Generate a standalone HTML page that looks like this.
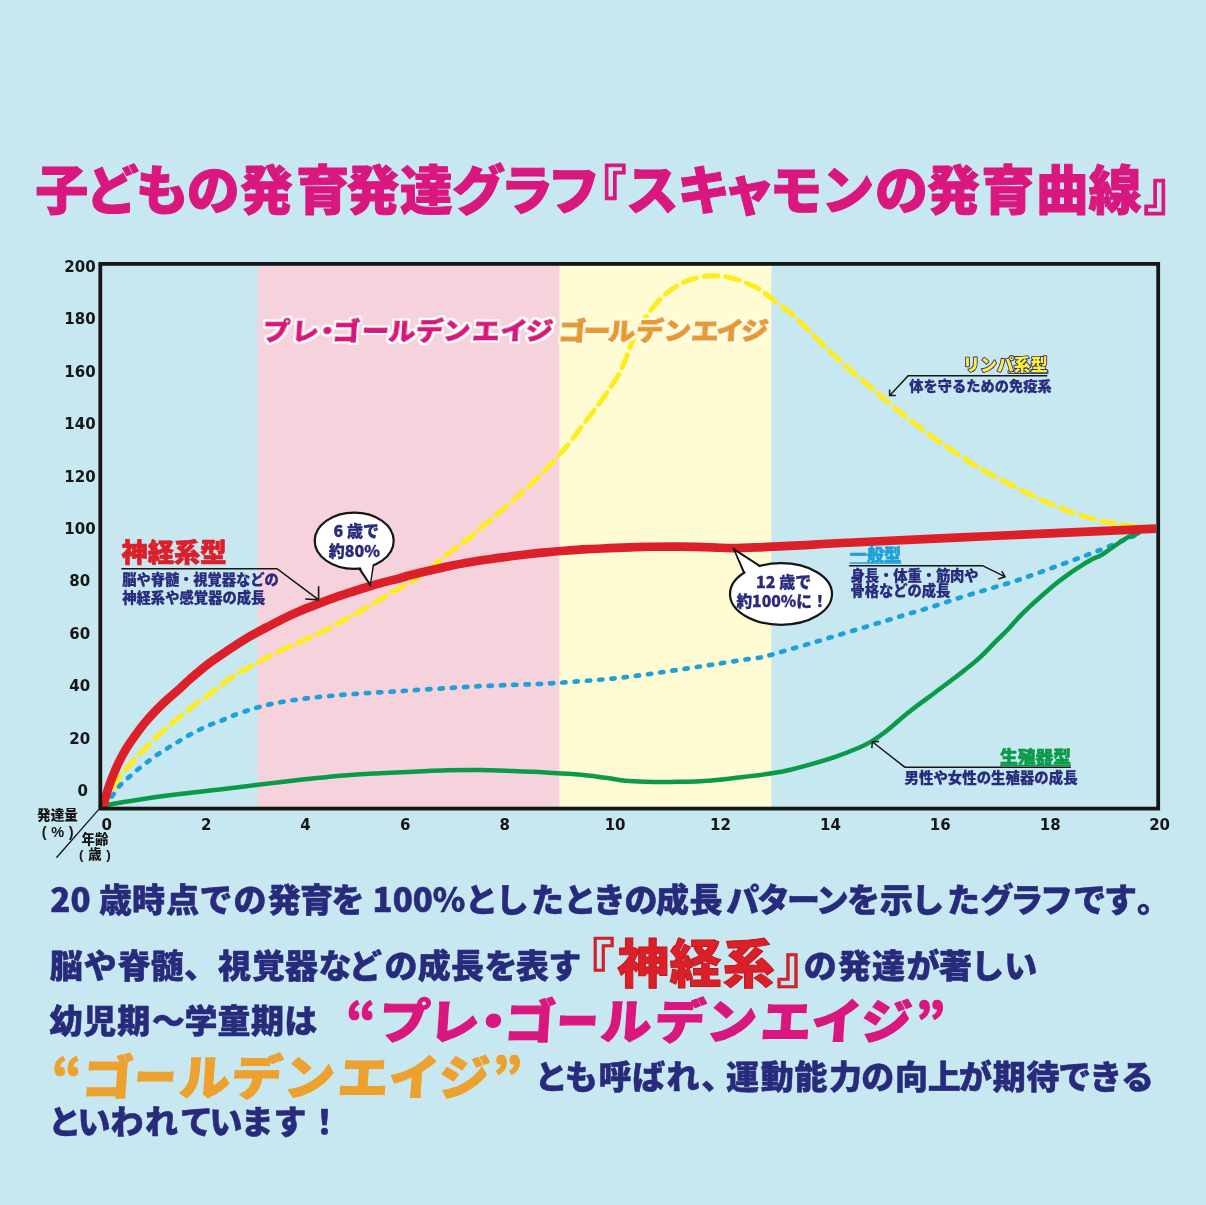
<!DOCTYPE html>
<html lang="ja"><head><meta charset="utf-8"><title>スキャモンの発育曲線</title>
<style>
html,body{margin:0;padding:0;background:#c7e8f1;}
body{width:1206px;height:1205px;overflow:hidden;position:relative;}
svg{display:block;position:absolute;left:0;top:0;}
text{font-family:"Liberation Sans","Noto Sans CJK JP",sans-serif;}
text.jp{font-family:"Noto Sans CJK JP",sans-serif;}
.num{font-family:"DejaVu Sans","Liberation Sans",sans-serif;font-weight:bold;}
</style></head><body>
<svg width="1206" height="1205" viewBox="0 0 1206 1205">
<rect x="0" y="0" width="1206" height="1205" fill="#c7e8f1"/>
<rect x="257.7" y="264" width="301.7" height="544.6" fill="#f6d2dc"/>
<rect x="559.4" y="264" width="212" height="544.6" fill="#fffbd3"/>
<text x="61.8 112.3 162.3 213.3 266.4 322.7 372.9 426.2 478.4 526.7 573.8 599.9 652.2 703.8 749.3 796.0 847.8 901.5 953.5 1008.1 1062.3 1115.1 1169.9" y="209.6" font-size="53.0" fill="#d9177f" font-weight="900" text-anchor="middle" stroke="#d9177f" stroke-width="1" stroke-linejoin="round">子どもの発育発達グラフ『スキャモンの発育曲線』</text>
<g fill="none" stroke-linejoin="round">
<path d="M103.0 807.0 C103.6 806.0 105.1 803.5 106.5 801.0 C107.9 798.5 109.6 795.6 111.5 792.0 C113.4 788.4 116.2 782.6 117.9 779.6 C119.6 776.6 120.1 776.0 121.9 773.7 C123.7 771.4 126.2 768.7 128.9 765.7 C131.6 762.7 135.2 758.5 137.8 755.7 C140.5 752.9 142.3 751.3 144.8 748.8 C147.3 746.3 150.3 743.3 152.8 740.8 C155.3 738.3 157.2 736.1 159.7 733.8 C162.2 731.5 165.2 729.0 167.7 726.9 C170.2 724.8 171.9 723.2 174.7 720.9 C177.5 718.6 181.3 715.6 184.6 712.9 C187.9 710.2 191.3 707.4 194.6 704.9 C197.9 702.4 200.9 700.6 204.6 698.0 C208.3 695.4 211.8 692.6 216.6 689.0 C221.4 685.4 227.7 679.8 233.2 676.1 C238.7 672.4 244.3 670.0 249.8 667.0 C255.3 664.0 260.8 660.7 266.3 657.8 C271.8 654.9 277.4 652.2 282.9 649.6 C288.4 647.0 294.0 644.6 299.5 642.1 C305.0 639.6 310.6 637.2 316.1 634.6 C321.6 632.0 327.2 629.2 332.7 626.3 C338.2 623.4 343.8 620.2 349.3 617.2 C354.8 614.2 360.3 611.3 365.8 608.1 C371.3 604.9 377.5 601.0 382.4 598.1 C387.3 595.2 390.4 593.1 395.0 590.5 C399.6 587.9 404.1 586.0 409.9 582.3 C415.7 578.6 423.2 573.4 429.8 568.4 C436.4 563.4 443.1 557.5 449.7 552.4 C456.3 547.2 463.0 542.8 469.6 537.5 C476.2 532.2 482.9 526.2 489.5 520.6 C496.1 515.0 502.8 509.5 509.4 503.7 C516.0 497.9 522.7 492.1 529.3 485.8 C535.9 479.5 542.7 472.9 549.2 465.9 C555.7 458.9 563.0 450.6 568.5 444.0 C574.0 437.4 577.4 432.1 581.9 426.2 C586.4 420.2 591.1 414.6 595.8 408.3 C600.4 402.0 605.8 394.4 609.8 388.4 C613.8 382.4 616.9 377.8 619.7 372.5 C622.5 367.2 624.6 361.8 626.7 356.5 C628.9 351.2 630.5 345.6 632.6 340.6 C634.8 335.6 636.8 331.5 639.6 326.7 C642.4 321.9 646.0 316.6 649.6 311.8 C653.2 307.0 657.2 302.0 661.5 297.8 C665.8 293.6 670.8 289.9 675.4 286.9 C680.0 283.9 684.8 281.6 689.4 279.9 C694.0 278.2 698.7 277.2 703.3 276.5 C707.9 275.8 712.6 275.7 717.2 275.9 C721.8 276.1 726.5 276.8 731.1 277.9 C735.8 279.0 740.5 280.7 745.1 282.5 C749.8 284.3 754.4 286.1 759.0 288.9 C763.6 291.7 768.2 295.8 772.9 299.4 C777.5 302.9 782.4 306.5 786.9 310.2 C791.4 313.9 795.9 317.7 800.0 321.6 C804.1 325.5 806.5 328.2 811.8 333.5 C817.1 338.8 825.1 347.0 831.7 353.3 C838.3 359.6 845.4 365.8 851.6 371.2 C857.8 376.6 863.2 380.9 869.0 385.9 C874.8 390.8 879.8 395.3 886.5 400.9 C893.2 406.5 903.5 414.9 909.3 419.5 C915.0 424.1 917.0 425.3 921.0 428.3 C925.0 431.3 929.4 434.8 933.3 437.6 C937.2 440.4 940.7 442.6 944.6 445.2 C948.5 447.8 952.3 450.7 956.5 453.5 C960.7 456.3 965.6 459.5 969.8 462.1 C974.0 464.8 977.7 467.1 981.7 469.4 C985.7 471.7 989.5 473.9 993.7 476.1 C997.9 478.3 1003.1 480.8 1006.9 482.7 C1010.7 484.6 1011.5 485.1 1016.3 487.5 C1021.0 489.9 1029.1 494.0 1035.4 497.0 C1041.8 500.0 1048.1 503.0 1054.4 505.6 C1060.8 508.2 1067.1 510.7 1073.5 512.9 C1079.9 515.1 1086.2 517.0 1092.6 518.7 C1099.0 520.4 1106.0 521.8 1111.7 522.9 C1117.4 524.0 1121.4 524.7 1126.9 525.4 C1132.5 526.1 1142.0 526.7 1145.0 527.0" stroke="#ffec1c" stroke-width="4.9" stroke-dasharray="14 7.6" stroke-linecap="round"/>
<path d="M104.0 806.0 C105.2 804.5 108.8 800.4 111.4 797.1 C114.0 793.8 116.7 789.3 119.4 786.1 C122.2 782.9 125.1 780.7 127.9 778.1 C130.7 775.5 133.3 773.2 136.3 770.7 C139.3 768.2 142.6 765.7 145.8 763.2 C149.1 760.7 152.5 758.0 155.8 755.7 C159.1 753.4 162.4 751.4 165.7 749.3 C169.0 747.2 172.3 745.4 175.7 743.3 C179.1 741.2 182.4 738.9 186.1 736.8 C189.8 734.7 193.9 732.7 197.6 730.8 C201.3 728.9 204.7 727.0 208.5 725.4 C212.3 723.8 216.4 722.6 220.5 721.0 C224.6 719.4 228.3 717.4 233.2 715.5 C238.1 713.6 244.3 711.5 249.8 709.8 C255.3 708.1 260.8 706.4 266.3 705.1 C271.8 703.8 277.4 702.8 282.9 701.8 C288.4 700.8 294.0 700.0 299.5 699.3 C305.0 698.5 310.6 697.9 316.1 697.3 C321.6 696.7 327.2 696.2 332.7 695.7 C338.2 695.2 343.8 694.7 349.3 694.3 C354.8 693.9 360.3 693.6 365.8 693.2 C371.3 692.9 376.9 692.5 382.4 692.2 C387.9 691.9 393.9 691.6 399.0 691.3 C404.1 691.0 405.3 690.7 413.2 690.2 C421.1 689.7 435.2 688.9 446.3 688.2 C457.4 687.5 468.4 686.8 479.5 686.2 C490.6 685.7 501.7 685.3 512.7 684.9 C523.8 684.5 534.8 684.2 545.8 683.6 C556.8 683.0 567.9 682.1 579.0 681.3 C590.1 680.5 601.2 679.7 612.2 678.6 C623.2 677.5 634.2 676.1 645.3 674.6 C656.3 673.1 667.4 671.4 678.5 669.7 C689.6 668.1 700.7 666.4 711.7 664.7 C722.8 663.0 736.4 660.8 744.8 659.6 C753.2 658.4 757.8 658.0 762.0 657.3 C766.2 656.6 766.2 656.3 770.0 655.2 C773.8 654.1 778.3 652.7 784.9 650.8 C791.5 648.9 801.5 646.0 809.8 643.6 C818.1 641.2 826.3 638.7 834.6 636.2 C842.9 633.7 851.2 631.2 859.5 628.7 C867.8 626.2 876.1 623.7 884.4 621.2 C892.7 618.7 901.0 616.1 909.3 613.6 C917.6 611.1 925.8 608.8 934.1 606.2 C942.4 603.6 950.7 600.5 959.0 597.9 C967.3 595.3 975.6 592.9 983.9 590.4 C992.2 587.9 1000.7 585.6 1008.8 583.0 C1016.9 580.4 1021.9 578.8 1032.5 575.0 C1043.1 571.2 1061.2 564.6 1072.3 560.5 C1083.3 556.4 1090.0 554.0 1098.8 550.5 C1107.6 547.0 1118.1 542.5 1125.3 539.5 C1132.5 536.5 1139.2 533.7 1142.0 532.5" stroke="#1ea0d8" stroke-width="4.7" stroke-dasharray="3.2 9.1" stroke-linecap="round"/>
<path d="M103.0 806.5 C103.7 806.2 100.4 806.3 107.4 805.0 C114.4 803.7 132.4 800.7 144.8 798.8 C157.2 796.9 169.7 795.3 182.1 793.8 C194.5 792.2 209.1 790.7 219.5 789.5 C229.9 788.3 232.0 788.0 244.4 786.5 C256.9 785.0 277.6 782.3 294.2 780.5 C310.8 778.7 329.6 776.7 343.9 775.5 C358.2 774.3 368.4 773.9 380.0 773.3 C391.6 772.7 402.1 772.3 413.2 771.8 C424.2 771.3 435.2 770.6 446.3 770.3 C457.4 770.0 468.4 770.0 479.5 770.1 C490.6 770.2 501.7 770.7 512.7 771.1 C523.8 771.5 534.8 771.9 545.8 772.5 C556.8 773.1 569.0 773.6 579.0 774.5 C589.0 775.4 597.8 776.8 605.5 777.8 C613.2 778.8 618.8 780.1 625.4 780.8 C632.0 781.5 636.4 781.6 645.3 781.8 C654.1 782.0 667.4 782.0 678.5 781.8 C689.6 781.6 700.7 781.2 711.7 780.4 C722.8 779.6 735.9 777.8 744.8 776.8 C753.7 775.8 758.3 775.3 765.0 774.3 C771.7 773.3 777.4 772.6 784.9 771.0 C792.4 769.4 801.5 766.9 809.8 764.6 C818.1 762.3 826.3 760.0 834.6 757.1 C842.9 754.2 853.3 750.1 859.5 747.5 C865.7 744.9 867.8 743.7 871.9 741.2 C876.0 738.7 878.2 737.5 884.4 732.6 C890.6 727.7 901.0 718.4 909.3 711.8 C917.6 705.2 925.8 699.4 934.1 693.2 C942.4 687.0 951.5 680.3 959.0 674.5 C966.5 668.7 972.7 664.0 978.9 658.4 C985.1 652.8 991.3 645.9 996.3 640.9 C1001.3 635.9 1005.3 632.1 1008.8 628.5 C1012.3 624.9 1013.8 622.7 1017.3 619.0 C1020.8 615.3 1025.6 610.5 1029.9 606.4 C1034.2 602.3 1038.8 598.4 1043.2 594.5 C1047.6 590.6 1052.0 586.7 1056.4 583.2 C1060.8 579.7 1065.3 576.4 1069.7 573.3 C1074.1 570.2 1079.0 567.0 1083.0 564.6 C1087.0 562.2 1090.4 560.2 1093.5 558.6 C1096.6 557.0 1097.9 557.2 1101.4 555.1 C1104.9 553.0 1110.3 548.8 1114.7 545.8 C1119.1 542.8 1123.8 539.5 1128.0 537.3 C1132.2 535.1 1138.0 533.3 1140.0 532.5" stroke="#0a9a48" stroke-width="4.5" stroke-linecap="butt"/>
<path d="M102.8 808.0 C103.1 806.8 103.8 804.1 104.6 801.0 C105.4 797.9 106.8 793.2 107.9 789.6 C109.0 786.0 110.2 782.9 111.4 779.6 C112.7 776.3 114.0 773.0 115.4 769.7 C116.9 766.4 118.4 763.0 120.1 759.7 C121.8 756.4 123.6 753.1 125.6 749.8 C127.6 746.5 129.8 743.1 132.1 739.8 C134.4 736.5 136.8 733.1 139.3 729.8 C141.8 726.5 144.4 723.2 147.3 719.9 C150.2 716.6 153.3 713.2 156.5 709.9 C159.7 706.6 163.1 703.3 166.7 700.0 C170.3 696.7 174.3 693.5 178.2 690.0 C182.1 686.5 184.6 683.7 189.9 679.2 C195.2 674.7 203.2 667.8 209.8 662.8 C216.4 657.8 223.1 653.6 229.7 649.2 C236.3 644.8 243.4 640.3 249.6 636.6 C255.8 632.9 261.4 630.2 267.0 627.2 C272.6 624.2 277.5 621.5 282.9 618.8 C288.3 616.1 294.0 613.6 299.5 611.2 C305.0 608.8 310.6 606.8 316.1 604.6 C321.6 602.5 327.2 600.3 332.7 598.3 C338.2 596.3 343.8 594.5 349.3 592.7 C354.8 590.9 360.3 589.2 365.8 587.5 C371.3 585.8 376.9 584.1 382.4 582.6 C387.9 581.1 394.4 579.7 399.0 578.5 C403.6 577.3 404.8 576.6 409.9 575.3 C415.0 573.9 423.2 571.9 429.8 570.4 C436.4 568.9 443.1 567.4 449.7 566.0 C456.3 564.6 463.0 563.4 469.6 562.3 C476.2 561.2 482.9 560.2 489.5 559.2 C496.1 558.2 502.8 557.4 509.4 556.5 C516.0 555.6 522.7 554.8 529.3 554.0 C535.9 553.2 542.6 552.6 549.2 552.0 C555.8 551.4 562.5 550.9 569.1 550.4 C575.7 549.9 582.4 549.5 589.0 549.1 C595.6 548.7 602.3 548.5 608.9 548.2 C615.5 547.9 622.7 547.6 628.8 547.4 C634.9 547.2 637.0 546.9 645.3 546.8 C653.6 546.7 667.4 546.5 678.5 546.6 C689.6 546.7 702.6 547.0 711.7 547.3 C720.8 547.6 725.0 548.2 733.0 548.2 C741.0 548.2 748.8 547.8 760.0 547.3 C771.2 546.8 784.5 546.1 800.0 545.3 C815.5 544.5 819.2 544.1 853.0 542.5 C886.8 540.9 952.5 537.8 1003.0 535.5 C1053.5 533.2 1130.5 529.8 1156.0 528.6" stroke="#dc2029" stroke-width="8.7" stroke-linecap="butt"/>
</g>
<rect x="100.3" y="263.9" width="1057.9" height="544.7" fill="none" stroke="#161616" stroke-width="3.8"/>
<line x1="98.6" y1="809.6" x2="56.4" y2="857.8" stroke="#161616" stroke-width="1.3"/>
<defs><filter id="olw" x="-5%" y="-20%" width="110%" height="140%"><feMorphology in="SourceAlpha" operator="dilate" radius="1.5" result="d"/><feFlood flood-color="#ffffff"/><feComposite in2="d" operator="in" result="o"/><feMerge><feMergeNode in="o"/><feMergeNode in="SourceGraphic"/></feMerge></filter>
<filter id="oly" x="-5%" y="-20%" width="110%" height="140%"><feMorphology in="SourceAlpha" operator="dilate" radius="1.6" result="d"/><feFlood flood-color="#fffce0"/><feComposite in2="d" operator="in" result="o"/><feMerge><feMergeNode in="o"/><feMergeNode in="SourceGraphic"/></feMerge></filter>
<filter id="oln" x="-5%" y="-20%" width="110%" height="140%"><feMorphology in="SourceAlpha" operator="dilate" radius="1" result="d"/><feFlood flood-color="#282a7c"/><feComposite in2="d" operator="in" result="o"/><feMerge><feMergeNode in="o"/><feMergeNode in="SourceGraphic"/></feMerge></filter></defs>
<g transform="translate(0,340) skewX(-4) scale(1.1,1)">
<text x="250.8 277.1 297.1 314.3 340.8 365.1 390.1 414.8 441.4 466.8 490.1" y="0.0" font-size="25.0" fill="#d9177f" font-weight="900" text-anchor="middle" stroke="#d9177f" stroke-width="1" stroke-linejoin="round" filter="url(#olw)">プレ・ゴールデンエイジ</text>
<text x="519.7 542.3 564.7 590.4 615.5 640.5 663.1 685.6" y="0.0" font-size="25.0" fill="#e59a33" font-weight="900" text-anchor="middle" stroke="#e59a33" stroke-width="1" stroke-linejoin="round" filter="url(#oly)">ゴールデンエイジ</text>
</g>
<text class="num" x="95.6" y="271.8" font-size="15" fill="#161616" text-anchor="end">200</text>
<text class="num" x="95.6" y="324.3" font-size="15" fill="#161616" text-anchor="end">180</text>
<text class="num" x="95.6" y="376.7" font-size="15" fill="#161616" text-anchor="end">160</text>
<text class="num" x="95.6" y="429.1" font-size="15" fill="#161616" text-anchor="end">140</text>
<text class="num" x="95.6" y="481.5" font-size="15" fill="#161616" text-anchor="end">120</text>
<text class="num" x="95.6" y="534.0" font-size="15" fill="#161616" text-anchor="end">100</text>
<text class="num" x="90.2" y="586.4" font-size="15" fill="#161616" text-anchor="end">80</text>
<text class="num" x="90.2" y="638.8" font-size="15" fill="#161616" text-anchor="end">60</text>
<text class="num" x="90.2" y="691.2" font-size="15" fill="#161616" text-anchor="end">40</text>
<text class="num" x="90.2" y="743.6" font-size="15" fill="#161616" text-anchor="end">20</text>
<text class="num" x="88.0" y="796.1" font-size="15" fill="#161616" text-anchor="end">0</text>
<text class="num" x="106.8" y="829.9" font-size="15" fill="#161616" text-anchor="middle">0</text>
<text class="num" x="206.2" y="829.9" font-size="15" fill="#161616" text-anchor="middle">2</text>
<text class="num" x="305.4" y="829.9" font-size="15" fill="#161616" text-anchor="middle">4</text>
<text class="num" x="405.2" y="829.9" font-size="15" fill="#161616" text-anchor="middle">6</text>
<text class="num" x="504.7" y="829.9" font-size="15" fill="#161616" text-anchor="middle">8</text>
<text class="num" x="615.1" y="829.9" font-size="15" fill="#161616" text-anchor="middle">10</text>
<text class="num" x="720.5" y="829.9" font-size="15" fill="#161616" text-anchor="middle">12</text>
<text class="num" x="830.4" y="829.9" font-size="15" fill="#161616" text-anchor="middle">14</text>
<text class="num" x="940.2" y="829.9" font-size="15" fill="#161616" text-anchor="middle">16</text>
<text class="num" x="1050.2" y="829.9" font-size="15" fill="#161616" text-anchor="middle">18</text>
<text class="num" x="1159.6" y="829.9" font-size="15" fill="#161616" text-anchor="middle">20</text>
<text x="57.5" y="819.5" font-size="13.6" fill="#161616" font-weight="900" text-anchor="middle">発達量</text>
<text x="41.8" y="836.6" font-size="14.5" fill="#161616" font-weight="700" textLength="31.7" lengthAdjust="spacing" xml:space="preserve">( % )</text>
<text x="95" y="844" font-size="13.4" fill="#161616" font-weight="900" text-anchor="middle">年齢</text>
<text x="79.1" y="859" font-size="13.4" fill="#161616" font-weight="900" textLength="31.7" lengthAdjust="spacing" xml:space="preserve">( 歳 )</text>
<text x="121.5" y="562.3" font-size="26.4" fill="#dc2029" stroke="#dc2029" stroke-width="0.7" font-weight="900" textLength="105" lengthAdjust="spacingAndGlyphs">神経系型</text>
<path d="M121.4 568.7 H277 L318.4 599.6 M318.6 586.3 V599.8 L305.2 599" fill="none" stroke="#161616" stroke-width="1.6"/>
<text x="122.2" y="585.3" font-size="14.3" fill="#282a7c" font-weight="900" stroke="#282a7c" stroke-width="0.25" textLength="156.6" lengthAdjust="spacing">脳や脊髄・視覚器などの</text>
<text x="122.2" y="603.3" font-size="14.3" fill="#282a7c" font-weight="900" stroke="#282a7c" stroke-width="0.25" textLength="143.2" lengthAdjust="spacing">神経系や感覚器の成長</text>
<path d="M358.2 566.8 L370 584.4 L373.4 562.7" fill="#ffffff" stroke="#161616" stroke-width="2.2" stroke-linejoin="miter"/>
<ellipse cx="354.2" cy="540.8" rx="39.5" ry="28.1" fill="#ffffff" stroke="#161616" stroke-width="2.2"/>
<path d="M359.5 565.5 L370 582.6 L372.8 563.5 Z" fill="#ffffff"/>
<text x="356.2" y="537.3" font-size="16" fill="#282a7c" font-weight="900" class="jp" stroke="#282a7c" stroke-width="0.3" text-anchor="middle" xml:space="preserve">6 歳で</text>
<text x="354.3" y="556.7" font-size="16" fill="#282a7c" font-weight="900" class="jp" stroke="#282a7c" stroke-width="0.3" text-anchor="middle">約80%</text>
<path d="M745.1 575.1 L734.4 549.6 L763.7 568.5" fill="#ffffff" stroke="#161616" stroke-width="2.2" stroke-linejoin="miter"/>
<ellipse cx="781" cy="594" rx="51" ry="30.8" fill="#ffffff" stroke="#161616" stroke-width="2.2"/>
<path d="M746.3 574.3 L736 552 L762.5 569.3 Z" fill="#ffffff"/>
<text x="783.6" y="588" font-size="16" fill="#282a7c" font-weight="900" class="jp" stroke="#282a7c" stroke-width="0.3" text-anchor="middle" xml:space="preserve">12 歳で</text>
<text x="782" y="607.3" font-size="15.7" fill="#282a7c" font-weight="900" class="jp" stroke="#282a7c" stroke-width="0.3" text-anchor="middle">約100%に！</text>
<rect x="1008" y="370.8" width="40" height="2.6" fill="#fff033" stroke="#282a7c" stroke-width="0.8"/>
<text x="1047.6" y="370.6" font-size="17.2" fill="#fff033" font-weight="900" text-anchor="end" stroke="#282a7c" stroke-width="1.8" paint-order="stroke" stroke-linejoin="round" textLength="84.5" lengthAdjust="spacingAndGlyphs">リンパ系型</text>
<path d="M1047.4 375.7 H908.1 L889.8 395.4 M889.6 389.6 V395.6 H895.8" fill="none" stroke="#161616" stroke-width="1.5"/>
<text x="909.3" y="390.5" font-size="14.2" fill="#282a7c" font-weight="900" stroke="#282a7c" stroke-width="0.25" textLength="142.3" lengthAdjust="spacing">体を守るための免疫系</text>
<text x="849.7" y="561.3" font-size="17.2" fill="#1ea0d8" stroke="#1ea0d8" stroke-width="0.5" font-weight="900" textLength="51.6" lengthAdjust="spacingAndGlyphs">一般型</text>
<rect x="849.7" y="562.3" width="51.6" height="1.5" fill="#1ea0d8"/>
<path d="M849.1 565.7 H982.6 L1004.8 576.7 M1001.7 571 L1005 576.8 L998.3 579" fill="none" stroke="#161616" stroke-width="1.5"/>
<text x="850.6" y="581" font-size="14.3" fill="#282a7c" font-weight="900" stroke="#282a7c" stroke-width="0.25" textLength="128" lengthAdjust="spacing">身長・体重・筋肉や</text>
<text x="850.6" y="596.3" font-size="14.3" fill="#282a7c" font-weight="900" stroke="#282a7c" stroke-width="0.25" textLength="99.8" lengthAdjust="spacing">骨格などの成長</text>
<text x="1000" y="763.2" font-size="17.6" fill="#0a9a48" stroke="#0a9a48" stroke-width="0.5" font-weight="900" textLength="71" lengthAdjust="spacingAndGlyphs">生殖器型</text>
<rect x="1000" y="764.6" width="71" height="1.5" fill="#0a9a48"/>
<path d="M1070.8 767.2 H904.8 L872.6 742 M879 741.4 L872.4 741.8 L871.8 748.1" fill="none" stroke="#161616" stroke-width="1.5"/>
<text x="904.6" y="783.3" font-size="14.4" fill="#282a7c" font-weight="900" stroke="#282a7c" stroke-width="0.25" textLength="173" lengthAdjust="spacing">男性や女性の生殖器の成長</text>
<text y="911.5" font-size="33.0" fill="#282a7c" font-weight="900" text-anchor="middle" stroke="#282a7c" stroke-width="0.5" stroke-linejoin="round" class="jp"><tspan x="70.4">20</tspan><tspan x="95.0"> </tspan><tspan x="115.6">歳</tspan><tspan x="148.5">時</tspan><tspan x="182.8">点</tspan><tspan x="216.1">で</tspan><tspan x="250.0">の</tspan><tspan x="284.3">発</tspan><tspan x="316.7">育</tspan><tspan x="348.0">を</tspan><tspan x="370.0"> </tspan><tspan x="419.0">100%</tspan><tspan x="481.4">と</tspan><tspan x="512.3">し</tspan><tspan x="547.6">た</tspan><tspan x="579.9">と</tspan><tspan x="609.3">き</tspan><tspan x="641.1">の</tspan><tspan x="672.5">成</tspan><tspan x="705.9">長</tspan><tspan x="742.7">パ</tspan><tspan x="773.5">タ</tspan><tspan x="803.4">ー</tspan><tspan x="832.2">ン</tspan><tspan x="863.5">を</tspan><tspan x="896.4">示</tspan><tspan x="927.7">し</tspan><tspan x="963.6">た</tspan><tspan x="997.0">グ</tspan><tspan x="1026.8">ラ</tspan><tspan x="1056.4">フ</tspan><tspan x="1089.8">で</tspan><tspan x="1120.5">す</tspan><tspan x="1153.6">。</tspan></text>
<text x="66.2 100.3 134.3 167.0 200.5 234.5 268.5 301.4 335.0 365.5 401.1 434.2 467.4 500.9 532.3 564.8" y="977.5" font-size="33.0" fill="#282a7c" font-weight="900" text-anchor="middle" stroke="#282a7c" stroke-width="0.5" stroke-linejoin="round">脳や脊髄、視覚器などの成長を表す</text>
<text y="982.0" font-size="52.0" fill="#dc2029" font-weight="900" text-anchor="middle" stroke="#b8141c" stroke-width="0.5" stroke-linejoin="round"><tspan x="588.8">『</tspan></text>
<text x="643.2 695.4 748.7" y="982.7" font-size="52.0" fill="#dc2029" font-weight="900" text-anchor="middle" stroke="#c4161e" stroke-width="1.0" stroke-linejoin="round">神経系</text>
<text y="982.7" font-size="52.0" fill="#dc2029" font-weight="900" text-anchor="middle" stroke="#b8141c" stroke-width="0.5" stroke-linejoin="round"><tspan x="802.5">』</tspan></text>
<text x="820.3 854.5 888.6 923.0 955.4 987.4 1020.8" y="977.5" font-size="33.0" fill="#282a7c" font-weight="900" text-anchor="middle" stroke="#282a7c" stroke-width="0.5" stroke-linejoin="round">の発達が著しい</text>
<text x="66.0 99.7 133.8 168.2 201.0 234.0 267.5 300.8" y="1033.0" font-size="33.0" fill="#282a7c" font-weight="900" text-anchor="middle" stroke="#282a7c" stroke-width="0.5" stroke-linejoin="round">幼児期〜学童期は</text>
<text y="1036.5" font-size="47.0" fill="#d9177f" font-weight="900" text-anchor="middle" stroke="#d9177f" stroke-width="1.2" stroke-linejoin="round" class="jp"><tspan x="361.2">“</tspan></text>
<g transform="translate(0,1038.7) skewX(-4) scale(1.06,1)">
<text y="0" font-size="48" fill="#d9177f" font-weight="900" text-anchor="middle" stroke="#d9177f" stroke-width="1.2" stroke-linejoin="round"><tspan x="380.7">プ</tspan><tspan x="427.6">レ</tspan><tspan x="464.3">・</tspan><tspan x="499.1">ゴ</tspan><tspan x="543.7" textLength="39.4" lengthAdjust="spacingAndGlyphs">ー</tspan><tspan x="589.9">ル</tspan><tspan x="640.4">デ</tspan><tspan x="689.3">ン</tspan><tspan x="740.4">エ</tspan><tspan x="788.3">イ</tspan><tspan x="835.4">ジ</tspan></text>
</g>
<text y="1038.2" font-size="47.0" fill="#d9177f" font-weight="900" text-anchor="middle" stroke="#d9177f" stroke-width="1.2" stroke-linejoin="round" class="jp"><tspan x="930.6">”</tspan></text>
<text y="1092.6" font-size="47.0" fill="#eda12e" font-weight="900" text-anchor="middle" stroke="#eda12e" stroke-width="1.2" stroke-linejoin="round" class="jp"><tspan x="66.9">“</tspan></text>
<g transform="translate(0,1094.5) skewX(-4) scale(1.06,1)">
<text y="0" font-size="48" fill="#eda12e" font-weight="900" text-anchor="middle" stroke="#eda12e" stroke-width="1.2" stroke-linejoin="round"><tspan x="100.7">ゴ</tspan><tspan x="145.3" textLength="39.4" lengthAdjust="spacingAndGlyphs">ー</tspan><tspan x="192.2">ル</tspan><tspan x="241.3">デ</tspan><tspan x="291.0">ン</tspan><tspan x="341.7">エ</tspan><tspan x="389.6">イ</tspan><tspan x="437.0">ジ</tspan></text>
</g>
<text y="1093.2" font-size="47.0" fill="#eda12e" font-weight="900" text-anchor="middle" stroke="#eda12e" stroke-width="1.2" stroke-linejoin="round" class="jp"><tspan x="507.5">”</tspan></text>
<text x="551.3 581.3 615.0 648.7 682.9 717.8 742.5 777.2 810.9 845.6 877.8 911.5 944.2 975.3 1009.3 1043.0 1074.8 1105.8 1137.5" y="1088.5" font-size="33.0" fill="#282a7c" font-weight="900" text-anchor="middle" stroke="#282a7c" stroke-width="0.5" stroke-linejoin="round">とも呼ばれ、運動能力の向上が期待できる</text>
<text x="64.7 94.1 126.9 161.5 196.4 226.1 257.2 290.1 324.6" y="1133.5" font-size="33.0" fill="#282a7c" font-weight="900" text-anchor="middle" stroke="#282a7c" stroke-width="0.5" stroke-linejoin="round">といわれています！</text>
</svg>
</body></html>
